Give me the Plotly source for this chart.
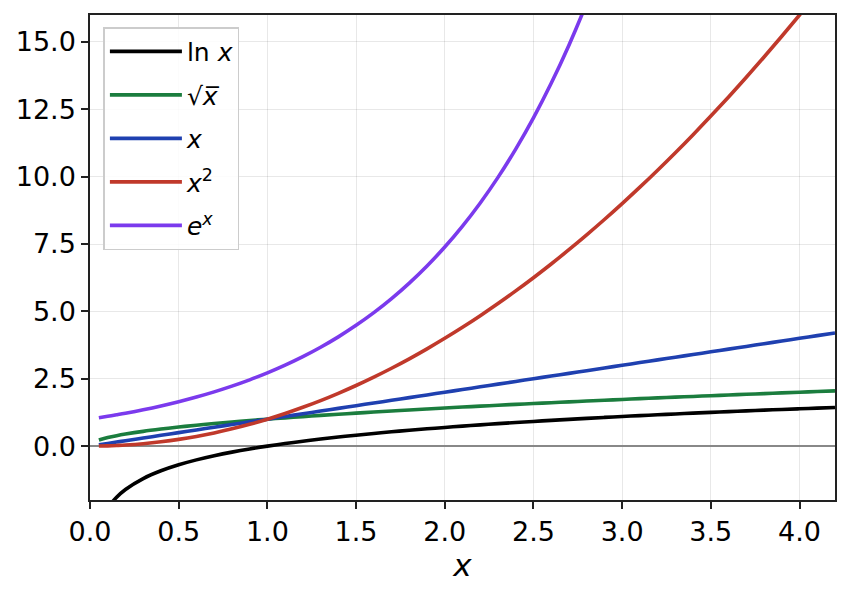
import plotly.graph_objects as go

# x positions and values
x_vals = [0.05, 0.1, 0.15, 0.2, 0.3, 0.4, 0.5, 0.6, 0.7, 0.8, 0.9, 1.0, 1.1, 1.2, 1.3, 1.4,
          1.5, 1.6, 1.7, 1.8, 1.9, 2.0, 2.1, 2.2, 2.3, 2.4, 2.5, 2.6, 2.7, 2.8, 2.9, 3.0,
          3.1, 3.2, 3.3, 3.4, 3.5, 3.6, 3.7, 3.8, 3.9, 4.0, 4.1, 4.2]
ln_vals = [-3.0, -2.303, -1.897, -1.609, -1.204, -0.916, -0.693, -0.511, -0.357, -0.223, -0.105,
           0.0, 0.095, 0.182, 0.262, 0.336, 0.405, 0.47, 0.531, 0.588, 0.642, 0.693, 0.742,
           0.788, 0.833, 0.875, 0.916, 0.956, 0.993, 1.03, 1.065, 1.099, 1.131, 1.163, 1.194,
           1.224, 1.253, 1.281, 1.308, 1.335, 1.361, 1.386, 1.411, 1.435]
sqrt_vals = [0.224, 0.316, 0.387, 0.447, 0.548, 0.632, 0.707, 0.775, 0.837, 0.894, 0.949, 1.0,
             1.049, 1.095, 1.14, 1.183, 1.225, 1.265, 1.304, 1.342, 1.378, 1.414, 1.449, 1.483,
             1.517, 1.549, 1.581, 1.612, 1.643, 1.673, 1.703, 1.732, 1.761, 1.789, 1.817, 1.844,
             1.871, 1.897, 1.924, 1.949, 1.975, 2.0, 2.025, 2.049]
lin_vals = [0.05, 0.1, 0.15, 0.2, 0.3, 0.4, 0.5, 0.6, 0.7, 0.8, 0.9, 1.0, 1.1, 1.2, 1.3, 1.4,
            1.5, 1.6, 1.7, 1.8, 1.9, 2.0, 2.1, 2.2, 2.3, 2.4, 2.5, 2.6, 2.7, 2.8, 2.9, 3.0,
            3.1, 3.2, 3.3, 3.4, 3.5, 3.6, 3.7, 3.8, 3.9, 4.0, 4.1, 4.2]
sq_vals = [0.003, 0.01, 0.023, 0.04, 0.09, 0.16, 0.25, 0.36, 0.49, 0.64, 0.81, 1.0, 1.21, 1.44,
           1.69, 1.96, 2.25, 2.56, 2.89, 3.24, 3.61, 4.0, 4.41, 4.84, 5.29, 5.76, 6.25, 6.76,
           7.29, 7.84, 8.41, 9.0, 9.61, 10.24, 10.89, 11.56, 12.25, 12.96, 13.69, 14.44, 15.21,
           16.0, 16.81, 17.64]
exp_x = [0.05, 0.1, 0.15, 0.2, 0.3, 0.4, 0.5, 0.6, 0.7, 0.8, 0.9, 1.0, 1.1, 1.2, 1.3, 1.4,
         1.5, 1.6, 1.7, 1.8, 1.9, 2.0, 2.1, 2.2, 2.3, 2.4, 2.5, 2.6, 2.7, 2.8, 2.9]
exp_vals = [1.051, 1.105, 1.162, 1.221, 1.35, 1.492, 1.649, 1.822, 2.014, 2.226, 2.46, 2.718,
            3.004, 3.32, 3.669, 4.055, 4.482, 4.953, 5.474, 6.05, 6.686, 7.389, 8.166, 9.025,
            9.974, 11.023, 12.182, 13.464, 14.88, 16.445, 18.174]

series = [
    ("ln <i>x</i>", x_vals, ln_vals, "black"),
    ("√<i>x̅</i>", x_vals, sqrt_vals, "#1b7d3e"),
    ("<i>x</i>", x_vals, lin_vals, "#1f40b0"),
    ("<i>x</i><sup>2</sup>", x_vals, sq_vals, "#c0392b"),
    ("<i>e</i><sup><i>x</i></sup>", exp_x, exp_vals, "#7b3aed"),
]

fig = go.Figure()
for i, (name, xs, ys, col) in enumerate(series):
    fig.add_trace(go.Scatter(x=xs, y=ys, mode="lines", name=name, legendgroup=str(i),
                             line=dict(color=col, width=3.6, shape="spline")))

axis_style = dict(showline=True, linecolor="#222", linewidth=1.5, mirror=True,
                  ticks="outside", ticklen=7, tickwidth=1.5, tickcolor="#222",
                  showgrid=True, gridcolor="rgba(0,0,0,0.09)", gridwidth=1.2,
                  tickformat=".1f", tickfont=dict(size=27))

fig.update_layout(
    width=848, height=592,
    paper_bgcolor="white", plot_bgcolor="white",
    font=dict(family="DejaVu Sans", size=26, color="black"),
    margin=dict(l=90, r=13, t=15, b=92),
    xaxis=dict(range=[0, 4.2], dtick=0.5, tick0=0, zeroline=False,
               title=dict(text="<i>x</i>", standoff=6), **axis_style),
    yaxis=dict(range=[-2, 16], dtick=2.5, tick0=0, zeroline=True,
               zerolinecolor="#888", zerolinewidth=1.5, **axis_style),
    legend=dict(x=0.018, y=0.975, xanchor="left", yanchor="top",
                bgcolor="rgba(255,255,255,0.85)", bordercolor="#ccc", borderwidth=1.5,
                itemwidth=72, traceorder="grouped", tracegroupgap=8, font=dict(size=25)),
    showlegend=True,
)

fig.write_html("out.html", config={"displayModeBar": False},
               post_script="document.body.style.margin='0';")
